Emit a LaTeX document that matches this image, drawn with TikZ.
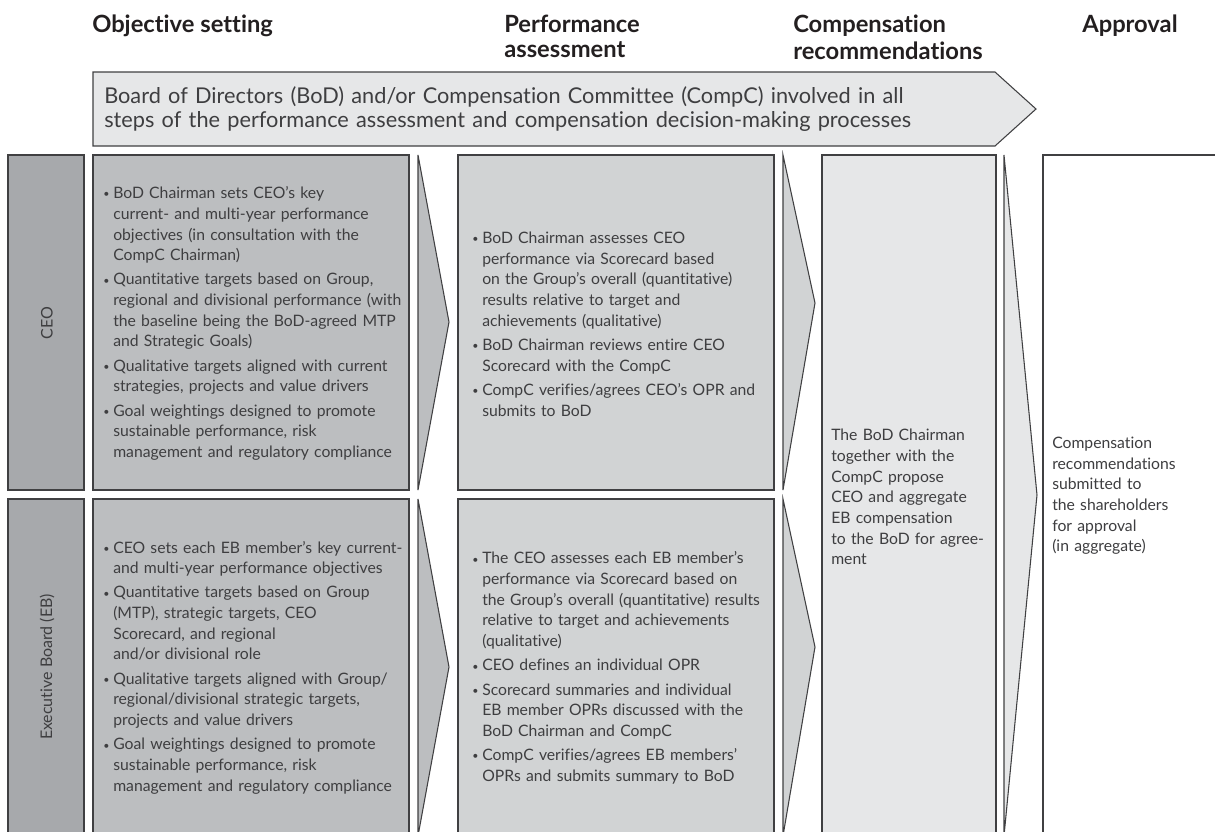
\documentclass[tikz,border=0pt]{standalone}
\usepackage{fontspec}
\setmainfont{Lato}[Ligatures=CommonOff]
\usepackage{tikz}
\usetikzlibrary{positioning}
\usetikzlibrary{calc}

\definecolor{labelgray}{RGB}{167,169,172}
\definecolor{objgray}{RGB}{188,190,192}
\definecolor{perfgray}{RGB}{209,211,212}
\definecolor{compgray}{RGB}{230,231,232}
\definecolor{edgegray}{RGB}{64,64,66}
\definecolor{txtgray}{RGB}{62,62,64}
\definecolor{headblack}{RGB}{35,31,32}

% first bullet and following bullets
\newcommand{\dotmark}{\makebox[7.5pt][l]{\raisebox{0.6pt}{\fontsize{8}{8}\selectfont\textbullet}}}
\newcommand{\bulz}[1]{\hangindent=7.5pt\hangafter=1\noindent\dotmark#1\par}
\newcommand{\bul}[1]{\vspace{2.7pt}\hangindent=7.5pt\hangafter=1\noindent\dotmark#1\par}

\begin{document}
\begin{tikzpicture}[x=0.75pt, y=-0.75pt,
    edge/.style={draw=edgegray, line width=0.8pt},
    head/.style={text=headblack, font=\fontsize{17.8}{15.8}\selectfont\bfseries, align=left, inner sep=0pt, anchor=north west},
    txt/.style={text=txtgray, font=\fontsize{11.8}{15.5}\selectfont, text width=290pt, align=left, inner sep=0pt, anchor=west},
    rowlab/.style={text=txtgray, font=\fontsize{12}{15.5}\selectfont, rotate=90, inner sep=0pt}]

  \useasboundingbox (0,0) rectangle (1215,832);
  \clip (0,0) rectangle (1215,832);

  \def\ta{155};  \def\ba{490};
  \def\tb{499};  \def\bb{836};

  % column headings
  \node[head] (hobj) at (92,15) {Objective setting};
  \node[head] (hperf) at (504,15) {Performance\\[3pt]assessment};
  \node[head] (hcomp) at (793,15) {Compensation\\[3pt]recommendations};
  \node[head] (happ) at (1082,15) {Approval};

  % banner arrow
  \draw[edge, fill=compgray] (93,72) -- (995,72) -- (1036,109) -- (995,146) -- (93,146) -- cycle;
  \node[text=txtgray, font=\fontsize{16.3}{17.4}\selectfont, text width=700pt, align=left, inner sep=0pt, anchor=west] (banner) at (104,109)
    {Board of Directors (BoD) and/or Compensation Committee (CompC) involved in all\\
     steps of the performance assessment and compensation decision-making processes};

  % boxes
  \foreach \ya/\yb in {\ta/\ba, \tb/\bb} {
    \draw[edge, fill=labelgray] (8,\ya) rectangle (84,\yb);
    \draw[edge, fill=objgray] (93,\ya) rectangle (409,\yb);
    \draw[edge, fill=perfgray] (458,\ya) rectangle (774,\yb);
  }
  \draw[edge, fill=compgray] (822,\ta) rectangle (996,\bb);
  \draw[edge, fill=white] (1043,\ta) rectangle (1240,\bb);

  % chevrons
  \foreach \xl/\xt/\yt/\ya/\yb/\col in {418/449/322/\ta/\ba/objgray, 418/449/667/\tb/\bb/objgray,
      783/815/303/\ta/\ba/perfgray, 783/815/647/\tb/\bb/perfgray, 1004/1037/495/\ta/\bb/compgray} {
    \draw[edge, fill=\col] (\xl,\ya) -- (\xt,\yt) -- (\xl,\yb) -- cycle;
  }

  % row labels
  \node[rowlab] (lceo) at (47,323) {CEO};
  \node[rowlab] (leb) at (47,667) {Executive Board (EB)};

  % objective setting
  \node[txt] (objceo) at (103,323.5) {%
    \bulz{BoD Chairman sets CEO’s key\newline current- and multi-year performance\newline objectives (in consultation with the\newline CompC Chairman)}
    \bul{Quantitative targets based on Group,\newline regional and divisional performance (with\newline the baseline being the BoD-agreed MTP\newline and Strategic Goals)}
    \bul{Qualitative targets aligned with current\newline strategies, projects and value drivers}
    \bul{Goal weightings designed to promote\newline sustainable performance, risk\newline management and regulatory compliance}};
  \node[txt] (objeb) at (103,667.5) {%
    \bulz{CEO sets each EB member’s key current-\newline and multi-year performance objectives}
    \bul{Quantitative targets based on Group\newline (MTP), strategic targets, CEO\newline Scorecard, and regional\newline and/or divisional role}
    \bul{Qualitative targets aligned with Group/\newline regional/divisional strategic targets,\newline projects and value drivers}
    \bul{Goal weightings designed to promote\newline sustainable performance, risk\newline management and regulatory compliance}};

  % performance assessment
  \node[txt] (perfceo) at (472,324) {%
    \bulz{BoD Chairman assesses CEO\newline performance via Scorecard based\newline on the Group’s overall (quantitative)\newline results relative to target and\newline achievements (qualitative)}
    \bul{BoD Chairman reviews entire CEO\newline Scorecard with the CompC}
    \bul{CompC verifies/agrees CEO’s OPR and\newline submits to BoD}};
  \node[txt] (perfeb) at (472,668) {%
    \bulz{The CEO assesses each EB member’s\newline performance via Scorecard based on\newline the Group’s overall (quantitative) results\newline relative to target and achievements\newline (qualitative)}
    \bul{CEO defines an individual OPR}
    \bul{Scorecard summaries and individual\newline EB member OPRs discussed with the\newline BoD Chairman and CompC}
    \bul{CompC verifies/agrees EB members’\newline OPRs and submits summary to BoD}};

  % compensation and approval
  \node[txt] (comptxt) at (831,497) {The BoD Chairman\\together with the\\CompC propose\\CEO and aggregate\\EB compensation\\to the BoD for agree-\\ment};
  \node[txt] (apptxt) at (1052,496) {Compensation\\recommendations\\submitted to\\the shareholders\\for approval\\(in aggregate)};

\end{tikzpicture}
\end{document}
